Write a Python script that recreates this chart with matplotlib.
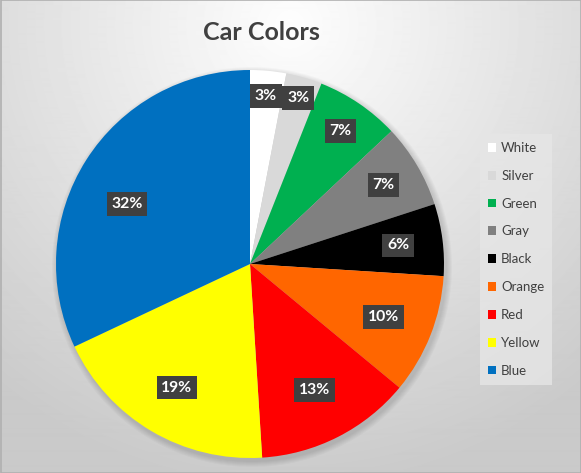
import numpy as np
import matplotlib
matplotlib.use("Agg")
import matplotlib.pyplot as plt
from matplotlib.patches import Rectangle

labels = ["White", "Silver", "Green", "Gray", "Black", "Orange", "Red", "Yellow", "Blue"]
shares = [3, 3, 7, 7, 6, 10, 13, 19, 32]
colors = ["#FFFFFF", "#D9D9D9", "#00B050", "#808080", "#000000",
          "#FF6600", "#FF0000", "#FFFF00", "#0070C0"]
# where each percent label sits: fraction of radius, angle tweak (deg)
label_r = [0.87, 0.89, 0.83, 0.80, 0.77, 0.74, 0.73, 0.74, 0.705]
label_da = [0, 0, 0, 0, 0, 0, 0, 0, 6.4]

W, H = 581, 473
plt.rcParams['font.family'] = ['Lato', 'DejaVu Sans']

fig = plt.figure(figsize=(W / 100, H / 100), dpi=100)
ax = fig.add_axes([0, 0, 1, 1])
ax.set_xlim(0, W)
ax.set_ylim(0, H)
ax.axis('off')

# radial grey background
yy, xx = np.mgrid[0:H, 0:W]
d = np.hypot(xx - 290, (H - yy) - (H - 25))
bg = np.clip(0.995 - 0.00044 * d, 0.79, 1.0)
ax.imshow(bg, cmap='gray', vmin=0, vmax=1, extent=(0, W, 0, H),
          origin='upper', zorder=0, interpolation='bilinear')
ax.add_patch(Rectangle((0.5, 0.5), W - 1, H - 1, fill=False,
                       edgecolor='#b0b0b0', lw=1.2, zorder=1))

cx, cy, r = 250, H - 264, 194
# soft shadow under the pie
for k in range(6):
    ax.add_patch(plt.Circle((cx + 2, cy - 3), r + 6 - k, color='black',
                            alpha=0.025, zorder=1, lw=0))

wedges, _ = ax.pie(shares, colors=colors, startangle=90, counterclock=False,
                   center=(cx, cy), radius=r, frame=True,
                   wedgeprops=dict(linewidth=0.5, edgecolor='none'))
for w in wedges:
    w.set_zorder(2)
ax.set_xlim(0, W)
ax.set_ylim(0, H)
ax.set_aspect('equal')
ax.axis('off')

for w, s, f, da in zip(wedges, shares, label_r, label_da):
    ang = np.deg2rad((w.theta1 + w.theta2) / 2 + da)
    x = cx + f * r * np.cos(ang)
    y = cy + f * r * np.sin(ang)
    ax.text(x, y, f"{s}%", ha='center', va='center', fontsize=11.3,
            fontweight='bold', color='white', zorder=5,
            bbox=dict(boxstyle='square,pad=0.3', facecolor='#404040',
                      edgecolor='none'))

ax.text(261, H - 33, "Car Colors", ha='center', va='center', fontsize=18,
        fontweight='bold', color='#404040', zorder=5)

leg = ax.legend(wedges, labels, loc='upper left',
                bbox_to_anchor=(480 / W, 1 - 134 / H), frameon=True,
                fontsize=9.5, handlelength=0.65, handleheight=0.65,
                handletextpad=0.35, labelspacing=1.2, borderpad=0.6,
                borderaxespad=0)
leg.get_frame().set_facecolor('#e6e6e6')
leg.get_frame().set_edgecolor('none')
leg.get_frame().set_boxstyle('square', pad=0)
leg.set_zorder(6)
for t in leg.get_texts():
    t.set_color('#404040')
for h in leg.legend_handles:
    h.set_edgecolor('none')

fig.savefig("out.png", dpi=100)
